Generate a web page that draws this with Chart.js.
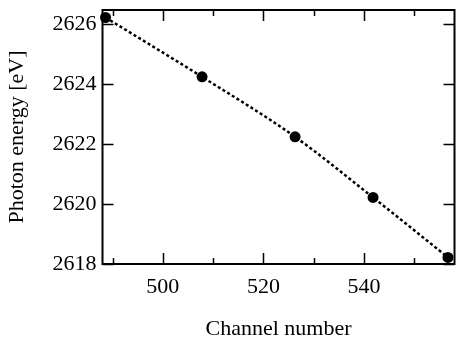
<!DOCTYPE html>
<html>
<head>
    <title>Photon energy calibration</title>
    <style>
        html, body { margin: 0; padding: 0; background: #fff; overflow: hidden; }
        canvas { display: block; }
    </style>
    <script src="https://cdn.jsdelivr.net/npm/chart.js"></script>
</head>
<body>
    <canvas id="calCanvas" width="460" height="338"></canvas>
    <script>
        // measured calibration points
        const channels = [488.6, 507.8, 526.3, 541.8, 556.7];
        const energies = [2626.22, 2624.24, 2622.24, 2620.22, 2618.22];

        const xMajorTicks = [500, 520, 540];
        const xMinorTicks = [490, 510, 530, 550];
        const yTicks = [2618, 2620, 2622, 2624, 2626];

        const serif = "'Liberation Serif', 'DejaVu Serif', serif";

        // no extra room for edge labels, the box is placed by layout padding
        function noEdgePadding(s) {
            s.paddingTop = 0;
            s.paddingBottom = 0;
            s.paddingLeft = 0;
            s.paddingRight = 0;
        }

        // inward ticks on all four sides, like the original plot
        const frameTicks = {
            id: 'frameTicks',
            afterDraw(chart) {
                const ctx = chart.ctx;
                const a = chart.chartArea;
                const xs = chart.scales.x;
                const ys = chart.scales.y;
                ctx.save();
                ctx.strokeStyle = '#000';
                ctx.lineWidth = 2;
                ctx.strokeRect(a.left, a.top, a.right - a.left, a.bottom - a.top);
                ctx.lineWidth = 1.5;
                ctx.beginPath();
                const xt = xMajorTicks.map(v => [v, 11]).concat(xMinorTicks.map(v => [v, 6]));
                xt.forEach(([v, len]) => {
                    const px = Math.round(xs.getPixelForValue(v)) + 0.5;
                    ctx.moveTo(px, a.bottom);
                    ctx.lineTo(px, a.bottom - len);
                    ctx.moveTo(px, a.top);
                    ctx.lineTo(px, a.top + len);
                });
                yTicks.forEach(v => {
                    const py = Math.round(ys.getPixelForValue(v)) + 0.5;
                    ctx.moveTo(a.left, py);
                    ctx.lineTo(a.left + 11, py);
                    ctx.moveTo(a.right, py);
                    ctx.lineTo(a.right - 11, py);
                });
                ctx.stroke();
                ctx.restore();
            }
        };

        new Chart(document.getElementById('calCanvas'), {
            type: 'scatter',
            data: {
                datasets: [
                    {
                        label: 'data',
                        data: channels.map((c, i) => ({ x: c, y: energies[i] })),
                        showLine: true,
                        cubicInterpolationMode: 'monotone',
                        clip: 8,
                        borderColor: '#000',
                        borderWidth: 2.5,
                        borderDash: [3, 2.5],
                        backgroundColor: '#000',
                        pointBorderWidth: 0,
                        pointRadius: 5.5,
                        pointHoverRadius: 5.5,
                        fill: false
                    }
                ]
            },
            options: {
                responsive: false,
                animation: false,
                layout: { padding: { top: 10, right: 2, left: 0, bottom: 0 } },
                plugins: {
                    legend: { display: false },
                    tooltip: { enabled: false }
                },
                scales: {
                    x: {
                        type: 'linear',
                        min: 488,
                        max: 558,
                        grid: { display: false, drawTicks: false, tickLength: 0 },
                        border: { display: false },
                        afterBuildTicks: s => { s.ticks = xMajorTicks.map(v => ({ value: v })); },
                        afterFit: s => { s.height = 74; noEdgePadding(s); },
                        ticks: {
                            color: '#000',
                            padding: 10,
                            font: { family: serif, size: 22 },
                            maxRotation: 0,
                            callback: v => String(v)
                        },
                        title: {
                            display: true,
                            text: 'Channel number',
                            color: '#000',
                            font: { family: serif, size: 22 },
                            padding: { top: 0, bottom: -4 }
                        }
                    },
                    y: {
                        type: 'linear',
                        min: 2618,
                        max: 2626.47,
                        grid: { display: false, drawTicks: false, tickLength: 0 },
                        border: { display: false },
                        afterBuildTicks: s => { s.ticks = yTicks.map(v => ({ value: v })); },
                        afterFit: s => { s.width = 102.5; noEdgePadding(s); },
                        ticks: {
                            color: '#000',
                            padding: 6,
                            font: { family: serif, size: 22 },
                            callback: v => String(v)
                        },
                        title: {
                            display: true,
                            text: 'Photon energy [eV]',
                            color: '#000',
                            font: { family: serif, size: 22 },
                            padding: { top: 4, bottom: 0 }
                        }
                    }
                }
            },
            plugins: [frameTicks]
        });
    </script>
</body>
</html>
